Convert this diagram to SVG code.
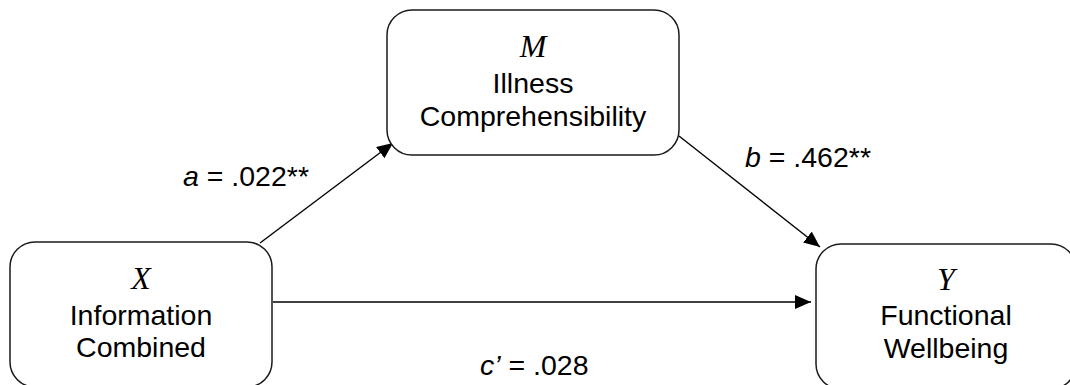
<svg xmlns="http://www.w3.org/2000/svg" width="1070" height="385" viewBox="0 0 1070 385">
<defs>
<style>
.box{fill:#fff;stroke:#1a1a1a;stroke-width:1.5}
.var{font-family:"Liberation Serif",serif;font-style:italic;font-size:32px;fill:#000;text-anchor:middle}
.lbl{font-family:"Liberation Sans",Arial,sans-serif;font-size:28.5px;fill:#000;text-anchor:middle}
.coef{font-family:"Liberation Sans",Arial,sans-serif;font-size:28.5px;fill:#000}
.conn{stroke:#000;stroke-width:1.4;fill:none;marker-end:url(#ah)}
</style>
<marker id="ah" markerWidth="16" markerHeight="14" refX="16" refY="7" orient="auto" markerUnits="userSpaceOnUse">
<path d="M0,0 L16,7 L0,14 Z" fill="#000"/>
</marker>
</defs>
<rect width="1070" height="385" fill="#fff"/>
<g id="connectors">
<line class="conn" x1="260" y1="243" x2="393" y2="143"/>
<line class="conn" x1="679" y1="136" x2="820" y2="247"/>
<line class="conn" x1="273" y1="302" x2="811" y2="302"/>
</g>
<g id="node-M">
<rect class="box" x="387" y="10" width="292" height="145" rx="25" ry="25"/>
<text class="var" x="533" y="57">M</text>
<text class="lbl" x="533" y="93">Illness</text>
<text class="lbl" x="533" y="126">Comprehensibility</text>
</g>
<g id="node-X">
<rect class="box" x="10" y="242" width="262" height="145" rx="25" ry="25"/>
<text class="var" x="141" y="289">X</text>
<text class="lbl" x="141" y="325">Information</text>
<text class="lbl" x="141" y="357">Combined</text>
</g>
<g id="node-Y">
<rect class="box" x="816" y="244" width="260" height="145" rx="25" ry="25"/>
<text class="var" x="946" y="290">Y</text>
<text class="lbl" x="946" y="325">Functional</text>
<text class="lbl" x="946" y="358">Wellbeing</text>
</g>
<g id="labels">
<text class="coef" x="183" y="186"><tspan font-style="italic">a</tspan> = .022**</text>
<text class="coef" x="745" y="167"><tspan font-style="italic">b</tspan> = .462**</text>
<text class="coef" x="480" y="375"><tspan font-style="italic">c’</tspan> = .028</text>
</g>
</svg>
